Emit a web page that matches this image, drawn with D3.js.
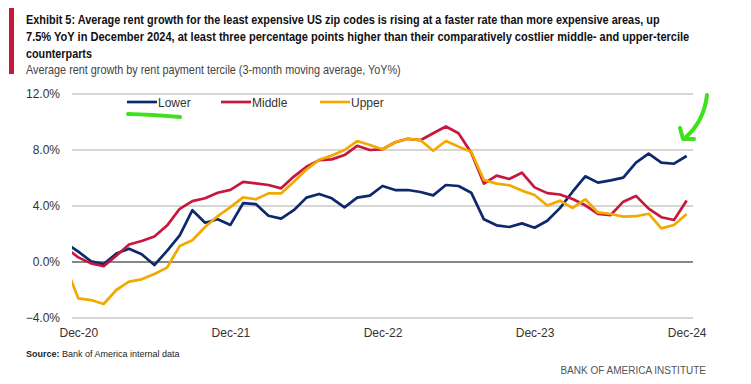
<!DOCTYPE html>
<html>
<head>
<meta charset="utf-8">
<script src="https://cdn.jsdelivr.net/npm/d3@7"></script>
<style>
  html, body { margin: 0; padding: 0; background: #ffffff; }
  svg { display: block; }
</style>
</head>
<body>
<svg id="chart" width="751" height="384"></svg>
<script>
// ---- data (first entry, Nov-20, lies just left of the plot and is clipped) ----
const months = ["Nov-20","Dec-20","Jan-21","Feb-21","Mar-21","Apr-21","May-21","Jun-21","Jul-21","Aug-21","Sep-21","Oct-21","Nov-21",
  "Dec-21","Jan-22","Feb-22","Mar-22","Apr-22","May-22","Jun-22","Jul-22","Aug-22","Sep-22","Oct-22","Nov-22",
  "Dec-22","Jan-23","Feb-23","Mar-23","Apr-23","May-23","Jun-23","Jul-23","Aug-23","Sep-23","Oct-23","Nov-23",
  "Dec-23","Jan-24","Feb-24","Mar-24","Apr-24","May-24","Jun-24","Jul-24","Aug-24","Sep-24","Oct-24","Nov-24","Dec-24"];
const lower = [1.36, 0.74, 0.05, -0.15, 0.6, 0.95, 0.55, -0.22, 0.8, 1.9, 3.7, 2.8, 3.05,
  2.65, 4.2, 4.14, 3.3, 3.1, 3.7, 4.6, 4.86, 4.55, 3.9, 4.6, 4.74,
  5.43, 5.14, 5.14, 5.0, 4.76, 5.5, 5.43, 4.95, 3.05, 2.62, 2.5, 2.76,
  2.45, 2.95, 3.85, 5.02, 6.12, 5.67, 5.83, 6.03, 7.1, 7.74, 7.1, 7.02, 7.57];
const middle = [1.0, 0.33, -0.1, -0.3, 0.45, 1.25, 1.5, 1.82, 2.6, 3.8, 4.35, 4.55, 4.95,
  5.15, 5.72, 5.62, 5.5, 5.26, 6.1, 6.8, 7.28, 7.33, 7.64, 8.3, 8.0,
  8.05, 8.55, 8.8, 8.7, 9.2, 9.68, 9.2, 7.8, 5.6, 6.17, 5.93, 6.38,
  5.33, 4.92, 4.82, 4.5, 4.05, 3.43, 3.35, 4.31, 4.72, 3.81, 3.2, 3.0, 4.4];
const upper = [-0.3, -2.6, -2.72, -3.0, -2.0, -1.4, -1.24, -0.86, -0.4, 1.14, 1.55, 2.5, 3.28,
  3.92, 4.62, 4.48, 4.9, 4.9, 5.74, 6.6, 7.3, 7.6, 8.0, 8.64, 8.36,
  8.05, 8.55, 8.8, 8.7, 7.95, 8.64, 8.24, 7.88, 5.86, 5.6, 5.48, 5.1,
  4.79, 4.04, 4.38, 3.86, 4.48, 3.54, 3.43, 3.24, 3.27, 3.45, 2.4, 2.64, 3.43];
const seriesNames = ["Lower", "Middle", "Upper"];
const yTicks = [-4, 0, 4, 8, 12];
const xTickLabels = ["Dec-20", "Dec-21", "Dec-22", "Dec-23", "Dec-24"];

const titleLines = [
  "Exhibit 5: Average rent growth for the least expensive US zip codes is rising at a faster rate than more expensive areas, up",
  "7.5% YoY in December 2024, at least three percentage points higher than their comparatively costlier middle- and upper-tercile",
  "counterparts"
];
const subtitle = "Average rent growth by rent payment tercile (3-month moving average, YoY%)";

// ---- layout ----
const svg = d3.select("#chart");
const colors = ["#0c2a6b", "#c8173c", "#f2a900"];
const plot = { left: 72, right: 693, top: 94, bottom: 318 };

const x = d3.scalePoint().domain(months.slice(1)).range([plot.left, plot.right]).padding(0.5);
const step = x.step();
const xPos = (m, i) => i === 0 ? x(months[1]) - step : x(m);
const y = d3.scaleLinear().domain([-4, 12]).range([plot.bottom, plot.top]);

// helper: draw text then compress horizontally to a target width
function fitText(str, tx, ty, targetW, attrs) {
  const t = svg.append("text").attr("x", 0).attr("y", 0).text(str);
  Object.entries(attrs).forEach(([k, v]) => t.attr(k, v));
  const w = t.node().getComputedTextLength();
  const s = Math.min(1, targetW / w);
  t.attr("transform", `translate(${tx},${ty}) scale(${s},1)`);
  return t;
}

// title block
svg.append("rect").attr("x", 9).attr("y", 8).attr("width", 5).attr("height", 66).attr("fill", "#c8173c");
const tFont = "'Liberation Sans', Arial, sans-serif";
const titleW = [634, 664, 66];
titleLines.forEach((t, i) => {
  fitText(t, 26, 23.5 + i * 17, titleW[i], {
    "font-family": tFont, "font-weight": "bold", "font-size": 13.5, "fill": "#111"
  });
});
fitText(subtitle, 26, 73.5, 375, { "font-family": tFont, "font-size": 12.5, "fill": "#444" });

// gridlines
const fam = "'Liberation Sans', Arial, sans-serif";
svg.append("g").selectAll("line").data(yTicks).join("line")
  .attr("x1", plot.left).attr("x2", plot.right)
  .attr("y1", d => y(d)).attr("y2", d => y(d))
  .attr("stroke", d => d === 0 ? "#111" : "#c9c9c9")
  .attr("stroke-width", d => d === 0 ? 1.2 : 1.6);

// y axis labels
const yAxis = d3.axisLeft(y).tickValues(yTicks).tickSize(0).tickPadding(0)
  .tickFormat(d => d3.format(".1f")(d) + "%");
const gy = svg.append("g").attr("transform", `translate(60,0)`).call(yAxis);
gy.select(".domain").remove();
gy.selectAll("text").attr("font-family", fam).attr("font-size", 12).attr("fill", "#333");

// x axis labels
const xAxis = d3.axisBottom(x).tickValues(xTickLabels).tickSize(0).tickPadding(0);
const gx = svg.append("g").attr("transform", `translate(0,${plot.bottom + 10})`).call(xAxis);
gx.select(".domain").remove();
gx.selectAll("text").attr("font-family", fam).attr("font-size", 12).attr("fill", "#333");

// lines
svg.append("clipPath").attr("id", "clip").append("rect")
  .attr("x", plot.left).attr("y", 0).attr("width", plot.right - plot.left).attr("height", 384);
const line = d3.line().x(d => d[0]).y(d => d[1]);
[lower, middle, upper].forEach((vals, si) => {
  const pts = vals.map((v, i) => [xPos(months[i], i), y(v)]);
  svg.append("path").attr("d", line(pts)).attr("clip-path", "url(#clip)")
    .attr("fill", "none").attr("stroke", colors[si]).attr("stroke-width", 2.7)
    .attr("stroke-linejoin", "round");
});

// legend
const legX = [127, 221, 320];
seriesNames.forEach((n, i) => {
  const g = svg.append("g").attr("transform", `translate(${legX[i]},102)`);
  g.append("line").attr("x1", 0).attr("x2", 30).attr("y1", 0).attr("y2", 0)
    .attr("stroke", colors[i]).attr("stroke-width", 2.7);
  g.append("text").attr("x", 31).attr("y", 4.5).attr("font-family", fam)
    .attr("font-size", 12).attr("fill", "#333").text(n);
});

// hand-drawn green annotations
svg.append("path").attr("d", "M128,114 Q150,114.5 180,117")
  .attr("fill", "none").attr("stroke", "#3fe01e").attr("stroke-width", 4).attr("stroke-linecap", "round");
svg.append("path").attr("d", "M707,95 Q704,121 686,137 M680,128 L683,139 L694,139")
  .attr("fill", "none").attr("stroke", "#3fe01e").attr("stroke-width", 4)
  .attr("stroke-linecap", "round").attr("stroke-linejoin", "round");

// footer
const src = svg.append("text").attr("x", 26).attr("y", 357).attr("font-family", tFont)
  .attr("font-size", 9).attr("fill", "#222");
src.append("tspan").attr("font-weight", "bold").text("Source:");
src.append("tspan").text(" Bank of America internal data");
svg.append("text").attr("x", 706).attr("y", 374).attr("text-anchor", "end")
  .attr("font-family", tFont).attr("font-size", 10).attr("fill", "#555")
  .text("BANK OF AMERICA INSTITUTE");
</script>
</body>
</html>
